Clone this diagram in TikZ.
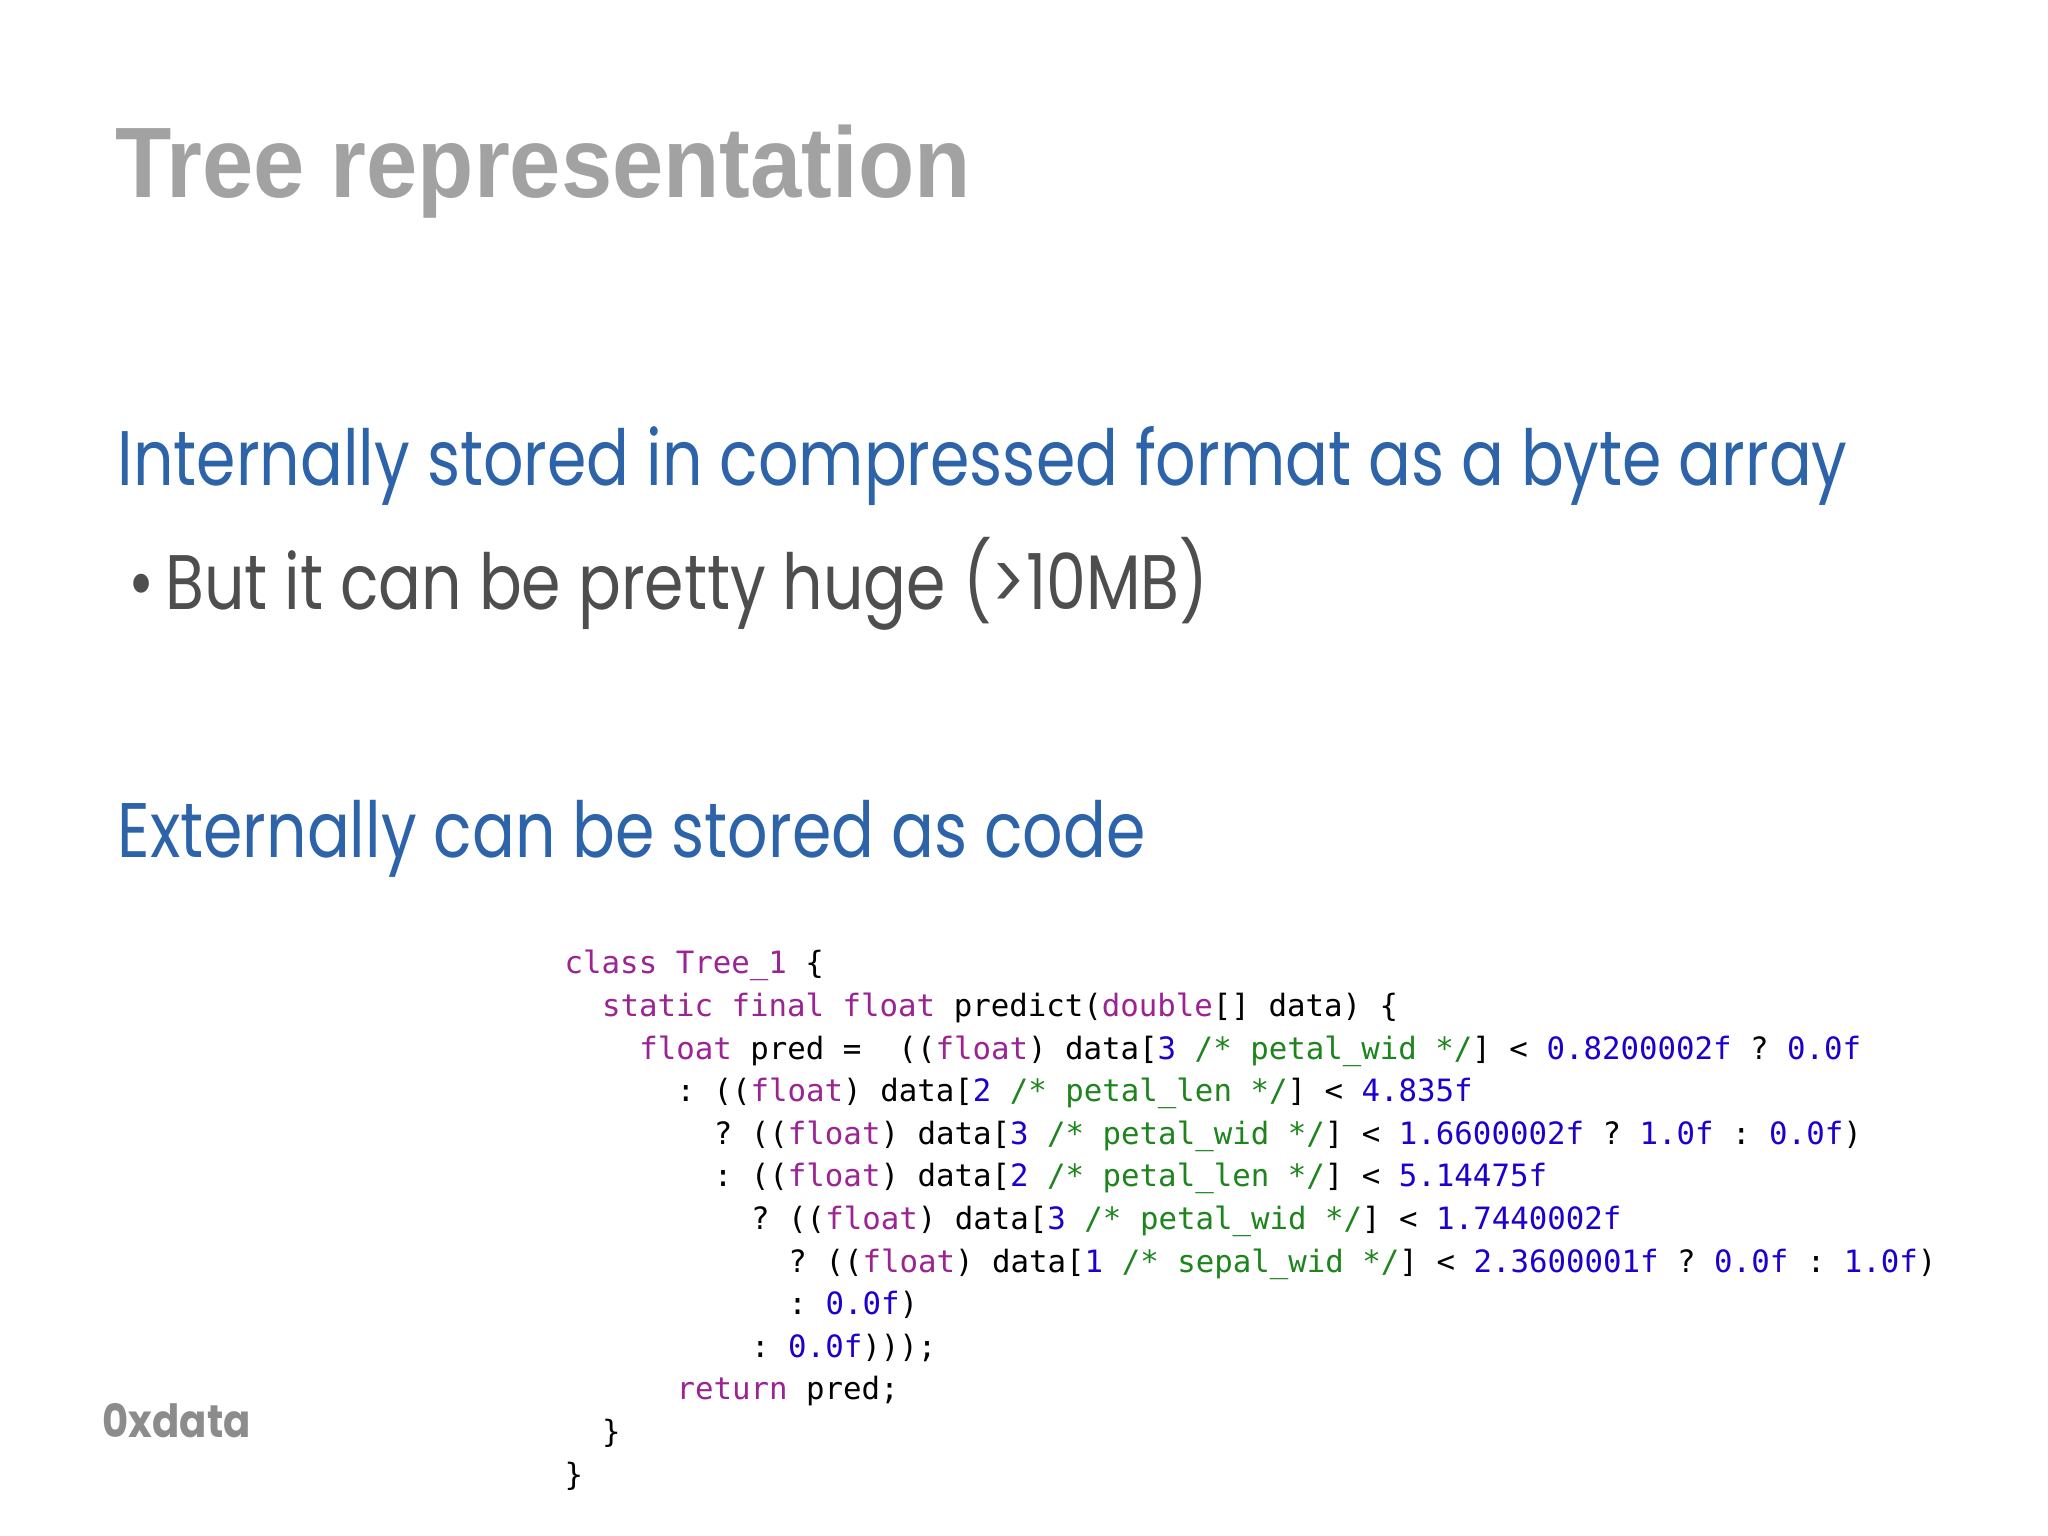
\documentclass[tikz,border=0pt]{standalone}
\usepackage{fontspec}
\setmonofont{DejaVu Sans Mono}
\newfontfamily\titlefont{Liberation Sans}
\newfontfamily\geofont{Poppins}
\definecolor{kw}{HTML}{9B2393}
\definecolor{num}{HTML}{1C00CF}
\definecolor{cm}{HTML}{1E841E}
\definecolor{hblue}{HTML}{2D63A8}
\definecolor{tgray}{HTML}{A2A2A2}
\definecolor{bgray}{HTML}{4E4E4E}
\newcommand\K[1]{\textcolor{kw}{#1}}
\newcommand\N[1]{\textcolor{num}{#1}}
\newcommand\C[1]{\textcolor{cm}{#1}}
\tikzset{code/.style={anchor=base west,inner sep=0pt,font=\fontsize{8.75pt}{10pt}\ttfamily},
 txt/.style={anchor=base west,inner sep=0pt},
 geo/.style={txt,transform shape,xscale=0.82,font=\geofont\fontsize{22pt}{24pt}\selectfont}}
\begin{document}
\begin{tikzpicture}[x=1cm,y=1cm]
\useasboundingbox (0,0) rectangle (20.48,15.36);
\node[txt,transform shape,xscale=0.92,font=\titlefont\bfseries\fontsize{28.5pt}{30pt}\selectfont,text=tgray] (title) at (1.15,13.38) {Tree representation};
\node[geo,text=hblue] (int) at (1.17,10.50) {Internally stored in compressed format as a byte array};
\node[geo,text=bgray] (bul) at (1.28,9.26) {\textbullet\,But it can be pretty huge (>10MB)};
\node[geo,text=hblue] (ext) at (1.17,6.78) {Externally can be stored as code};
\def\cx{5.64}\def\cw{0.1865}
\foreach \i/\ind/\t in {
 0/0/{\K{class} \K{Tree\_1} \{},
 1/2/{\K{static} \K{final} \K{float} predict(\K{double}[] data) \{},
 2/4/{\K{float} pred =\ \ ((\K{float}) data[\N{3} \C{/* petal\_wid */}] < \N{0.8200002f} ? \N{0.0f}},
 3/6/{: ((\K{float}) data[\N{2} \C{/* petal\_len */}] < \N{4.835f}},
 4/8/{? ((\K{float}) data[\N{3} \C{/* petal\_wid */}] < \N{1.6600002f} ? \N{1.0f} : \N{0.0f})},
 5/8/{: ((\K{float}) data[\N{2} \C{/* petal\_len */}] < \N{5.14475f}},
 6/10/{? ((\K{float}) data[\N{3} \C{/* petal\_wid */}] < \N{1.7440002f}},
 7/12/{? ((\K{float}) data[\N{1} \C{/* sepal\_wid */}] < \N{2.3600001f} ? \N{0.0f} : \N{1.0f})},
 8/12/{: \N{0.0f})},
 9/10/{: \N{0.0f})));},
 10/6/{\K{return} pred;},
 11/2/{\}},
 12/0/{\}}}
 \node[code] (c\i) at ({\cx+\ind*\cw},{5.62-\i*0.426}) {\t};
\node[txt,transform shape,xscale=0.88,font=\geofont\bfseries\fontsize{13pt}{14pt}\selectfont,text=gray!90] (logo) at (1.02,0.98) {0xdata};
\end{tikzpicture}
\end{document}
